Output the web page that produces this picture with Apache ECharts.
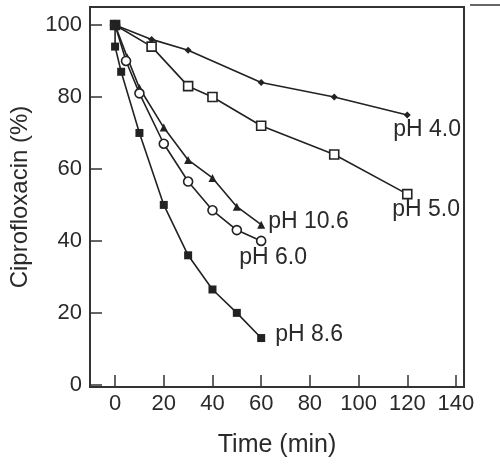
<!DOCTYPE html>
<html><head><meta charset="utf-8">
<script src="https://cdn.jsdelivr.net/npm/echarts@6/dist/echarts.min.js"></script>
<style>html,body{margin:0;padding:0;background:#fff}#c{width:500px;height:468px}</style>
</head><body><div id="c"></div>
<script>
const xTicks = [0, 20, 40, 60, 80, 100, 120, 140];
const yTicks = [0, 20, 40, 60, 80, 100];

const ph40Time = [0, 15, 30, 60, 90, 120];
const ph40Vals = [100, 96, 93, 84, 80, 75];

const ph50Time = [0, 15, 30, 40, 60, 90, 120];
const ph50Vals = [100, 94, 83, 80, 72, 64, 53];

const ph106Time = [0, 5, 10, 20, 30, 40, 50, 60];
const ph106Vals = [100, 91, 82.5, 71.5, 62.5, 57.5, 49.5, 44.5];

const ph60Time = [0, 4.5, 10, 20, 30, 40, 50, 60];
const ph60Vals = [100, 90, 81, 67, 56.5, 48.5, 43, 40];

const ph86Time = [0, 0, 2.5, 10, 20, 30, 40, 50, 60];
const ph86Vals = [100, 94, 87, 70, 50, 36, 26.5, 20, 13];

const seriesNames = ['pH 4.0', 'pH 5.0', 'pH 10.6', 'pH 6.0', 'pH 8.6'];

const ink = '#222';
const txt = '#2a2a2a';
const font = 'Liberation Sans, Arial, sans-serif';

function build(times, vals, name, labelOffset) {
  return times.map((t, i) => {
    const item = { value: [t, vals[i]] };
    if (i === times.length - 1) {
      item.label = {
        show: true, formatter: name, position: 'inside', align: 'left', verticalAlign: 'middle',
        offset: labelOffset, color: txt, fontSize: 23, fontFamily: font
      };
    }
    return item;
  });
}

function mk(name, times, vals, symbol, size, filled, labelOffset) {
  return {
    name: name, type: 'line', data: build(times, vals, name, labelOffset),
    symbol: symbol, symbolSize: size, showAllSymbol: true,
    lineStyle: { color: ink, width: 1.6 },
    itemStyle: { color: filled ? ink : '#fff', borderColor: ink, borderWidth: filled ? 0 : 1.6 },
    label: { show: false }, emphasis: { disabled: true }, z: 3
  };
}

const chart = echarts.init(document.getElementById('c'), null, { renderer: 'canvas' });
chart.setOption({
  animation: false,
  backgroundColor: '#fff',
  grid: { left: 90, right: 36, top: 7, bottom: 81, containLabel: false, outerBoundsMode: 'none',
          show: true, borderColor: '#333', borderWidth: 2, backgroundColor: 'transparent' },
  xAxis: {
    type: 'value', min: -10.3, max: 143.3,
    name: 'Time (min)', nameLocation: 'middle', nameGap: 46,
    nameTextStyle: { color: txt, fontSize: 25, fontFamily: font },
    axisLine: { show: true, onZero: false, lineStyle: { color: '#333', width: 2 } },
    axisTick: { show: true, inside: true, length: 12, lineStyle: { color: '#333', width: 1.5 }, customValues: xTicks },
    axisLabel: { color: txt, fontSize: 22, margin: 6, fontFamily: font, customValues: xTicks },
    splitLine: { show: false }
  },
  yAxis: {
    type: 'value', min: -0.6, max: 105,
    name: 'Ciprofloxacin (%)', nameLocation: 'middle', nameGap: 58,
    nameTextStyle: { color: txt, fontSize: 24, fontFamily: font },
    axisLine: { show: true, onZero: false, lineStyle: { color: '#333', width: 2 } },
    axisTick: { show: true, inside: true, length: 12, lineStyle: { color: '#333', width: 1.5 }, customValues: yTicks },
    axisLabel: { color: txt, fontSize: 22, margin: 8, fontFamily: font, customValues: yTicks },
    splitLine: { show: false }
  },
  graphic: [
    { type: 'line', shape: { x1: 470, y1: 5, x2: 500, y2: 5 }, style: { stroke: '#333', lineWidth: 1.5 } }
  ],
  series: [
    mk(seriesNames[0], ph40Time, ph40Vals, 'diamond', 7, true, [-14, 15]),
    mk(seriesNames[1], ph50Time, ph50Vals, 'rect', 9, false, [-15, 16]),
    mk(seriesNames[2], ph106Time, ph106Vals, 'triangle', 8, true, [7, -3]),
    mk(seriesNames[3], ph60Time, ph60Vals, 'circle', 9, false, [-22, 17]),
    mk(seriesNames[4], ph86Time, ph86Vals, 'rect', 8, true, [14, -3])
  ]
});
</script></body></html>
